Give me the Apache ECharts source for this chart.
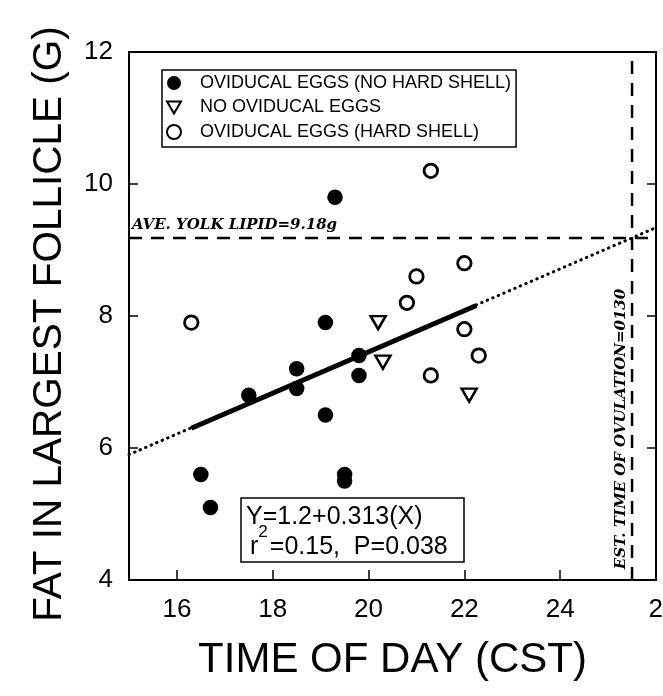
<!DOCTYPE html>
<html>
<head>
<meta charset="utf-8">
<script src="https://cdn.jsdelivr.net/npm/echarts@6/dist/echarts.min.js"></script>
<style>
  html, body { margin: 0; padding: 0; background: #fff; }
  #chart { width: 663px; height: 696px; }
</style>
</head>
<body>
<div id="chart"></div>
<script>
// values
const noShell = [[19.3, 9.8], [19.1, 7.9], [19.8, 7.4], [18.5, 7.2], [17.5, 6.8], [18.5, 6.9],
  [19.8, 7.1], [19.1, 6.5], [16.5, 5.6], [19.5, 5.6], [19.5, 5.5], [16.7, 5.1]];
const noEggs = [[20.2, 7.9], [20.3, 7.3], [22.1, 6.8]];
const hardShell = [[16.3, 7.9], [21.3, 10.2], [22.0, 8.8], [21.0, 8.6], [20.8, 8.2],
  [22.0, 7.8], [22.3, 7.4], [21.3, 7.1]];
const fitSolid = [[16.3, 6.3], [22.25, 8.16]];
const fitDotted = [[15, 5.9], [26, 9.34]];
const yolkLine = [[15, 9.18], [26, 9.18]];
const ovulationLine = [[25.5, 4], [25.5, 12]];
const xTicks = [16, 18, 20, 22, 24, 26];
const xTickMarks = [16, 18, 20, 22, 24];

const legendNames = ['OVIDUCAL EGGS (NO HARD SHELL)', 'NO OVIDUCAL EGGS', 'OVIDUCAL EGGS (HARD SHELL)'];
const triDown = 'path://M0,0 L10,0 L5,8.66 Z';
const sans = '"Liberation Sans", Arial, sans-serif';
const serif = '"DejaVu Serif", serif';

const chart = echarts.init(document.getElementById('chart'));

const lineSeries = (data, lineStyle) => ({
  type: 'line',
  data: data,
  showSymbol: false,
  silent: true,
  z: 1,
  lineStyle: Object.assign({ color: '#000' }, lineStyle)
});

const options = {
  animation: false,
  grid: { left: 129, right: 7, top: 52, bottom: 116, outerBoundsMode: 'none' },
  legend: {
    data: legendNames,
    orient: 'vertical',
    left: 162,
    top: 70,
    padding: [4, 5, 6, 4],
    itemWidth: 14,
    itemHeight: 14,
    itemGap: 6.5,
    borderColor: '#000',
    borderWidth: 1.5,
    selectedMode: false,
    textStyle: {
      color: '#000',
      fontFamily: sans,
      fontSize: 18,
      lineHeight: 18,
      padding: [0, 0, 0, 14]
    }
  },
  xAxis: [
    {
      type: 'value',
      min: 15,
      max: 26,
      name: 'TIME OF DAY (CST)',
      nameLocation: 'middle',
      nameGap: 59,
      nameTextStyle: { color: '#000', fontFamily: sans, fontSize: 42 },
      axisLine: { onZero: false, lineStyle: { color: '#000', width: 2 } },
      axisTick: { inside: true, length: 10, customValues: xTickMarks, lineStyle: { color: '#000', width: 1.5 } },
      axisLabel: {
        customValues: xTicks,
        margin: 17,
        color: '#000',
        fontFamily: sans,
        fontSize: 26,
        // the last label runs off the right edge of the figure
        formatter: (v) => (v === 26 ? '{edge|' + v + '}' : String(v)),
        rich: { edge: { fontFamily: sans, fontSize: 26, color: '#000', padding: [0, 0, 0, 14] } }
      },
      splitLine: { show: false }
    },
    {
      type: 'value',
      position: 'top',
      min: 15,
      max: 26,
      axisLine: { onZero: false, lineStyle: { color: '#000', width: 2 } },
      axisTick: { show: false },
      axisLabel: { show: false },
      splitLine: { show: false }
    }
  ],
  yAxis: [
    {
      type: 'value',
      min: 4,
      max: 12,
      interval: 2,
      axisLine: { show: true, onZero: false, lineStyle: { color: '#000', width: 2 } },
      axisTick: { show: true, inside: true, length: 9, lineStyle: { color: '#000', width: 1.5 } },
      axisLabel: { margin: 16, color: '#000', fontFamily: sans, fontSize: 26 },
      splitLine: { show: false }
    },
    {
      type: 'value',
      position: 'right',
      min: 4,
      max: 12,
      interval: 2,
      axisLine: { show: true, onZero: false, lineStyle: { color: '#000', width: 2 } },
      axisTick: { show: true, inside: true, length: 9, lineStyle: { color: '#000', width: 1.5 } },
      axisLabel: { show: false },
      splitLine: { show: false }
    }
  ],
  series: [
    lineSeries(fitDotted, { width: 3, type: [0.5, 5.5], cap: 'round' }),
    lineSeries(fitSolid, { width: 5 }),
    lineSeries(yolkLine, { width: 2.5, type: [13, 9] }),
    lineSeries(ovulationLine, { width: 2.5, type: [13, 9] }),
    {
      name: legendNames[0],
      type: 'scatter',
      data: noShell,
      symbol: 'circle',
      symbolSize: 15.5,
      z: 3,
      itemStyle: { color: '#000', opacity: 1 }
    },
    {
      name: legendNames[1],
      type: 'scatter',
      data: noEggs,
      symbol: triDown,
      symbolSize: [15, 13],
      z: 3,
      itemStyle: { color: '#fff', borderColor: '#000', borderWidth: 2.5, opacity: 1 }
    },
    {
      name: legendNames[2],
      type: 'scatter',
      data: hardShell,
      symbol: 'circle',
      symbolSize: 13.5,
      z: 3,
      itemStyle: { color: '#fff', borderColor: '#000', borderWidth: 2.8, opacity: 1 }
    }
  ],
  graphic: [
    {
      type: 'text',
      x: 50,
      y: 324,
      rotation: Math.PI / 2,
      silent: true,
      style: {
        text: 'FAT IN LARGEST FOLLICLE (G)',
        font: '40.5px ' + sans,
        fill: '#000',
        align: 'center',
        verticalAlign: 'middle'
      }
    },
    {
      type: 'text',
      x: 132,
      y: 225.5,
      silent: true,
      style: {
        text: 'AVE. YOLK LIPID=9.18g',
        font: 'italic bold 15px ' + serif,
        fill: '#000',
        align: 'left',
        verticalAlign: 'middle'
      }
    },
    {
      type: 'text',
      x: 621,
      y: 429,
      rotation: Math.PI / 2,
      silent: true,
      style: {
        text: 'EST. TIME OF OVULATION=0130',
        font: 'italic bold 15px ' + serif,
        fill: '#000',
        align: 'center',
        verticalAlign: 'middle'
      }
    },
    {
      type: 'rect',
      silent: true,
      z: 10,
      shape: { x: 241, y: 498, width: 223, height: 64 },
      style: { fill: '#fff', stroke: '#000', lineWidth: 1.5 }
    },
    {
      type: 'text',
      x: 246,
      y: 517.5,
      z: 11,
      silent: true,
      style: {
        text: 'Y=1.2+0.313(X)',
        font: '25px ' + sans,
        fill: '#000',
        align: 'left',
        verticalAlign: 'middle'
      }
    },
    {
      type: 'text',
      x: 250,
      y: 547,
      z: 11,
      silent: true,
      style: {
        text: 'r{sup|2}=0.15,  P=0.038',
        font: '25px ' + sans,
        fill: '#000',
        align: 'left',
        verticalAlign: 'middle',
        rich: {
          sup: { fontSize: 17, fontFamily: sans, fill: '#000', padding: [0, 2, 30, 0] }
        }
      }
    }
  ]
};

chart.setOption(options);
</script>
</body>
</html>
